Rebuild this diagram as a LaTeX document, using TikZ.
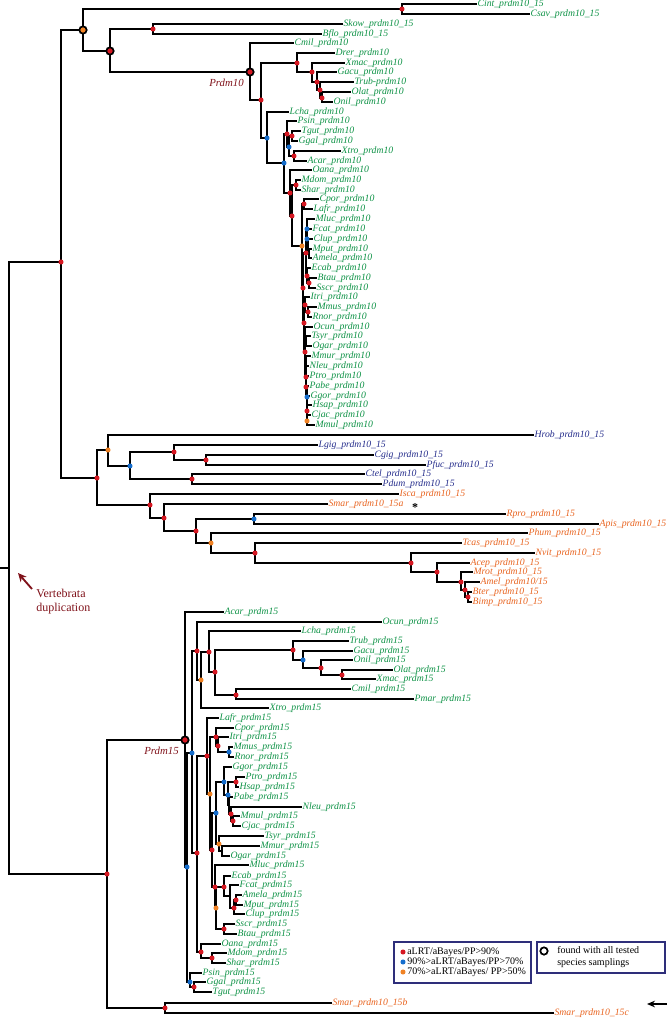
\documentclass[tikz,border=0pt]{standalone}
\usepackage{fontspec}
\setmainfont{Liberation Serif}
\usetikzlibrary{arrows.meta}
\definecolor{vgreen}{RGB}{14,146,70}
\definecolor{iblue}{RGB}{38,46,140}
\definecolor{aorange}{RGB}{232,100,32}
\definecolor{darkred}{RGB}{128,18,26}
\definecolor{dred}{RGB}{214,24,34}
\definecolor{dblue}{RGB}{22,110,205}
\definecolor{dorange}{RGB}{240,130,36}
\definecolor{legblue}{RGB}{46,46,122}
\tikzset{
  br/.style={line width=1.2pt, line cap=rect},
  lf/.style={anchor=west, inner xsep=1pt, inner ysep=0.5pt, font=\fontsize{7.3}{8}\selectfont\itshape},
  vg/.style={lf, text=vgreen},
  ib/.style={lf, text=iblue},
  ao/.style={lf, text=aorange},
  dotr/.style={circle, fill=dred, inner sep=0pt, minimum size=3.8pt},
  dotb/.style={dotr, fill=dblue},
  doto/.style={dotr, fill=dorange},
  ringr/.style={circle, draw=black, line width=1.3pt, fill=dred, inner sep=0pt, minimum size=5.5pt},
  ringo/.style={ringr, fill=dorange},
  ringw/.style={ringr, fill=white},
  clade/.style={text=darkred, inner sep=0pt, font=\fontsize{8.1}{9}\selectfont\itshape},
  legbox/.style={draw=legblue, line width=0.9pt},
  leg/.style={anchor=west, inner sep=0pt, font=\fontsize{7.5}{9}\selectfont}
}
\begin{document}
\begin{tikzpicture}[x=0.75pt, y=-0.75pt]
\useasboundingbox (0,0) rectangle (668,1018);

% inner nodes, upper part
\coordinate (Rs) at (0,568);
\coordinate (R0) at (9,568);
\coordinate (N61) at (61,262);
\coordinate (O1) at (83,30);
\coordinate (Ncc) at (402,9);
\coordinate (N2) at (110,51);
\coordinate (Nsb) at (153,29);
\coordinate (P10) at (250,72);
\coordinate (Na) at (261,100);
\coordinate (F1) at (297,63);
\coordinate (F2) at (312,72);
\coordinate (F3) at (317,82);
\coordinate (F4) at (320,90);
\coordinate (F5) at (322,98);
\coordinate (B1) at (267,138);
\coordinate (B2) at (284,163);
\coordinate (R1) at (287,134);
\coordinate (B3) at (289,147);
\coordinate (TG) at (292,136);
\coordinate (XA) at (294,156);
\coordinate (M0) at (290,193);
\coordinate (Mx) at (292,216);
\coordinate (Ms10) at (296,185);
\coordinate (P0) at (302,246);
\coordinate (CL) at (304,204);
\coordinate (Q) at (303,288);
\coordinate (Lr) at (306,253);
\coordinate (Lb1) at (307,229);
\coordinate (Carn) at (307,239);
\coordinate (Cma) at (308,246);
\coordinate (Ma) at (309,253);
\coordinate (Lu) at (307,276);
\coordinate (Bs10) at (309,283);
\coordinate (Er) at (304,323);
\coordinate (Gl) at (305,305);
\coordinate (Mr) at (308,312);
\coordinate (Ra) at (305,352);
\coordinate (Ua) at (305,337);
\coordinate (Ub) at (306,341);
\coordinate (Pr) at (306,377);
\coordinate (Pq) at (306,361);
\coordinate (Ps) at (306,387);
\coordinate (Pt) at (307,397);
\coordinate (Pu) at (307,411);
\coordinate (Pw) at (307,400);
\coordinate (Pv) at (307,421);

% inner nodes, prdm10_15
\coordinate (I0) at (97,478);
\coordinate (I1) at (108,450);
\coordinate (I2) at (130,466);
\coordinate (I3) at (174,452);
\coordinate (I4) at (206,460);
\coordinate (I5) at (192,479);
\coordinate (I6) at (150,505);
\coordinate (I7) at (164,518);
\coordinate (I8) at (196,531);
\coordinate (I9) at (254,519);
\coordinate (I10) at (211,543);
\coordinate (I11) at (255,553);
\coordinate (I12) at (411,563);
\coordinate (I13) at (437,572);
\coordinate (I14) at (461,582);
\coordinate (I15) at (465,590);
\coordinate (I16) at (468,597);

% inner nodes, prdm15
\coordinate (S0) at (107,874);
\coordinate (S1) at (165,1008);
\coordinate (P15) at (185,740);
\coordinate (Bq) at (187,867);
\coordinate (Bu) at (192,753);
\coordinate (Bp) at (190,982);
\coordinate (Rf) at (197,651);
\coordinate (Or) at (201,680);
\coordinate (Rg) at (209,652);
\coordinate (Rh) at (215,672);
\coordinate (Fi) at (293,650);
\coordinate (Fj) at (303,660);
\coordinate (Fk) at (321,668);
\coordinate (Fl) at (342,675);
\coordinate (Fm) at (236,695);
\coordinate (Rn) at (197,853);
\coordinate (Eu) at (207,756);
\coordinate (Ez) at (210,794);
\coordinate (Ea) at (216,737);
\coordinate (Eb) at (218,746);
\coordinate (Ec) at (229,752);
\coordinate (Ed) at (212,850);
\coordinate (Ee) at (216,813);
\coordinate (Ef) at (224,782);
\coordinate (Eg) at (228,795);
\coordinate (Hh) at (236,782);
\coordinate (Ez2) at (229,805);
\coordinate (Ei) at (231,814);
\coordinate (Mc) at (233,821);
\coordinate (Tg) at (219,844);
\coordinate (Mo2) at (222,851);
\coordinate (Lr2) at (215,887);
\coordinate (Lo) at (216,908);
\coordinate (Lc) at (224,887);
\coordinate (Cn) at (230,896);
\coordinate (Cm2) at (234,908);
\coordinate (Am2) at (236,900);
\coordinate (Bs) at (224,929);
\coordinate (Mo) at (201,952);
\coordinate (Ms2) at (212,958);
\coordinate (Gt2) at (194,987);

% leaves, upper part
\node[vg] (Cint) at (476,4) {Cint\_prdm10\_15};
\node[vg] (Csav) at (529,14) {Csav\_prdm10\_15};
\node[vg] (Skow) at (342,24) {Skow\_prdm10\_15};
\node[vg] (Bflo) at (321,34) {Bflo\_prdm10\_15};
\node[vg] (Cmil10) at (293,43) {Cmil\_prdm10};
\node[vg] (Drer) at (334,53) {Drer\_prdm10};
\node[vg] (Xmac10) at (344,63) {Xmac\_prdm10};
\node[vg] (Gacu10) at (336,72) {Gacu\_prdm10};
\node[vg] (Trub10) at (353,82) {Trub-prdm10};
\node[vg] (Olat10) at (350,92) {Olat\_prdm10};
\node[vg] (Onil10) at (332,102) {Onil\_prdm10};
\node[vg] (Lcha10) at (288,112) {Lcha\_prdm10};
\node[vg] (Psin10) at (296,121) {Psin\_prdm10};
\node[vg] (Tgut10) at (300,131) {Tgut\_prdm10};
\node[vg] (Ggal10) at (297,141) {Ggal\_prdm10};
\node[vg] (Xtro10) at (340,151) {Xtro\_prdm10};
\node[vg] (Acar10) at (306,161) {Acar\_prdm10};
\node[vg] (Oana10) at (311,170) {Oana\_prdm10};
\node[vg] (Mdom10) at (300,180) {Mdom\_prdm10};
\node[vg] (Shar10) at (300,190) {Shar\_prdm10};
\node[vg] (Cpor10) at (318,199) {Cpor\_prdm10};
\node[vg] (Lafr10) at (312,209) {Lafr\_prdm10};
\node[vg] (Mluc10) at (314,219) {Mluc\_prdm10};
\node[vg] (Fcat10) at (311,229) {Fcat\_prdm10};
\node[vg] (Clup10) at (312,239) {Clup\_prdm10};
\node[vg] (Mput10) at (311,249) {Mput\_prdm10};
\node[vg] (Amela10) at (311,258) {Amela\_prdm10};
\node[vg] (Ecab10) at (310,268) {Ecab\_prdm10};
\node[vg] (Btau10) at (316,278) {Btau\_prdm10};
\node[vg] (Sscr10) at (315,288) {Sscr\_prdm10};
\node[vg] (Itri10) at (309,297) {Itri\_prdm10};
\node[vg] (Mmus10) at (316,307) {Mmus\_prdm10};
\node[vg] (Rnor10) at (311,317) {Rnor\_prdm10};
\node[vg] (Ocun10) at (312,327) {Ocun\_prdm10};
\node[vg] (Tsyr10) at (310,336) {Tsyr\_prdm10};
\node[vg] (Ogar10) at (311,346) {Ogar\_prdm10};
\node[vg] (Mmur10) at (310,356) {Mmur\_prdm10};
\node[vg] (Nleu10) at (308,366) {Nleu\_prdm10};
\node[vg] (Ptro10) at (308,376) {Ptro\_prdm10};
\node[vg] (Pabe10) at (308,386) {Pabe\_prdm10};
\node[vg] (Ggor10) at (309,396) {Ggor\_prdm10};
\node[vg] (Hsap10) at (311,405) {Hsap\_prdm10};
\node[vg] (Cjac10) at (310,415) {Cjac\_prdm10};
\node[vg] (Mmul10) at (314,425) {Mmul\_prdm10};

% leaves, prdm10_15
\node[ib] (Hrob) at (533,435) {Hrob\_prdm10\_15};
\node[ib] (Lgig) at (317,445) {Lgig\_prdm10\_15};
\node[ib] (Cgig) at (373,455) {Cgig\_prdm10\_15};
\node[ib] (Pfuc) at (425,465) {Pfuc\_prdm10\_15};
\node[ib] (Ctel) at (364,474) {Ctel\_prdm10\_15};
\node[ib] (Pdum) at (381,484) {Pdum\_prdm10\_15};
\node[ao] (Isca) at (398,494) {Isca\_prdm10\_15};
\node[ao] (Smar15a) at (327,504) {Smar\_prdm10\_15a};
\node[ao] (Rpro) at (505,514) {Rpro\_prdm10\_15};
\node[ao] (Apis) at (598,524) {Apis\_prdm10\_15};
\node[ao] (Phum) at (527,533) {Phum\_prdm10\_15};
\node[ao] (Tcas) at (461,543) {Tcas\_prdm10\_15};
\node[ao] (Nvit) at (534,553) {Nvit\_prdm10\_15};
\node[ao] (Acep) at (469,563) {Acep\_prdm10\_15};
\node[ao] (Mrot) at (472,572) {Mrot\_prdm10\_15};
\node[ao] (Amel) at (479,582) {Amel\_prdm10/15};
\node[ao] (Bter) at (471,592) {Bter\_prdm10\_15};
\node[ao] (Bimp) at (471,602) {Bimp\_prdm10\_15};
\node[inner sep=0pt, font=\bfseries\fontsize{9}{9}\selectfont] (ast) at (415,508) {*};

% leaves, prdm15
\node[vg] (Acar15) at (223,612) {Acar\_prdm15};
\node[vg] (Ocun15) at (381,622) {Ocun\_prdm15};
\node[vg] (Lcha15) at (300,631) {Lcha\_prdm15};
\node[vg] (Trub15) at (348,641) {Trub\_prdm15};
\node[vg] (Gacu15) at (352,651) {Gacu\_prdm15};
\node[vg] (Onil15) at (352,660) {Onil\_prdm15};
\node[vg] (Olat15) at (392,670) {Olat\_prdm15};
\node[vg] (Xmac15) at (375,679) {Xmac\_prdm15};
\node[vg] (Cmil15) at (350,689) {Cmil\_prdm15};
\node[vg] (Pmar15) at (413,699) {Pmar\_prdm15};
\node[vg] (Xtro15) at (268,708) {Xtro\_prdm15};
\node[vg] (Lafr15) at (218,718) {Lafr\_prdm15};
\node[vg] (Cpor15) at (233,728) {Cpor\_prdm15};
\node[vg] (Itri15) at (228,737) {Itri\_prdm15};
\node[vg] (Mmus15) at (232,747) {Mmus\_prdm15};
\node[vg] (Rnor15) at (233,757) {Rnor\_prdm15};
\node[vg] (Ggor15) at (231,767) {Ggor\_prdm15};
\node[vg] (Ptro15) at (244,777) {Ptro\_prdm15};
\node[vg] (Hsap15) at (238,787) {Hsap\_prdm15};
\node[vg] (Pabe15) at (232,797) {Pabe\_prdm15};
\node[vg] (Nleu15) at (301,807) {Nleu\_prdm15};
\node[vg] (Mmul15) at (239,816) {Mmul\_prdm15};
\node[vg] (Cjac15) at (240,826) {Cjac\_prdm15};
\node[vg] (Tsyr15) at (263,836) {Tsyr\_prdm15};
\node[vg] (Mmur15) at (259,846) {Mmur\_prdm15};
\node[vg] (Ogar15) at (229,856) {Ogar\_prdm15};
\node[vg] (Mluc15) at (248,865) {Mluc\_prdm15};
\node[vg] (Ecab15) at (230,876) {Ecab\_prdm15};
\node[vg] (Fcat15) at (238,885) {Fcat\_prdm15};
\node[vg] (Amela15) at (241,895) {Amela\_prdm15};
\node[vg] (Mput15) at (242,905) {Mput\_prdm15};
\node[vg] (Clup15) at (244,914) {Clup\_prdm15};
\node[vg] (Sscr15) at (234,924) {Sscr\_prdm15};
\node[vg] (Btau15) at (236,934) {Btau\_prdm15};
\node[vg] (Oana15) at (220,944) {Oana\_prdm15};
\node[vg] (Mdom15) at (226,953) {Mdom\_prdm15};
\node[vg] (Shar15) at (225,963) {Shar\_prdm15};
\node[vg] (Psin15) at (201,973) {Psin\_prdm15};
\node[vg] (Ggal15) at (205,982) {Ggal\_prdm15};
\node[vg] (Tgut15) at (211,992) {Tgut\_prdm15};
\node[ao] (Smar15b) at (331,1003) {Smar\_prdm10\_15b};
\node[ao] (Smar15c) at (553,1013) {Smar\_prdm10\_15c};

% branches, upper part
\draw[br] (Rs) -- (R0) (R0) |- (N61) (R0) |- (S0);
\draw[br] (N61) |- (O1) (N61) |- (I0);
\draw[br] (O1) |- (Ncc) (O1) |- (N2);
\draw[br] (Ncc) |- (Cint) (Ncc) |- (Csav);
\draw[br] (N2) |- (Nsb) (N2) |- (P10);
\draw[br] (Nsb) |- (Skow) (Nsb) |- (Bflo);
\draw[br] (P10) |- (Cmil10) (P10) |- (Na);
\draw[br] (Na) |- (F1) (Na) |- (B1);
\draw[br] (F1) |- (Drer) (F1) |- (F2);
\draw[br] (F2) |- (Xmac10) (F2) |- (F3);
\draw[br] (F3) |- (Gacu10) (F3) |- (F4);
\draw[br] (F4) |- (Trub10) (F4) |- (F5);
\draw[br] (F5) |- (Olat10) (F5) |- (Onil10);
\draw[br] (B1) |- (Lcha10) (B1) |- (B2);
\draw[br] (B2) |- (R1) (B2) |- (M0);
\draw[br] (R1) |- (Psin10) (R1) |- (B3);
\draw[br] (B3) |- (TG) (B3) |- (XA);
\draw[br] (TG) |- (Tgut10) (TG) |- (Ggal10);
\draw[br] (XA) |- (Xtro10) (XA) |- (Acar10);
\draw[br] (M0) |- (Oana10) (M0) |- (Mx);
\draw[br] (Mx) |- (Ms10) (Mx) |- (P0);
\draw[br] (Ms10) |- (Mdom10) (Ms10) |- (Shar10);
\draw[br] (P0) |- (CL) (P0) |- (Q);
\draw[br] (CL) |- (Cpor10) (CL) |- (Lafr10);
\draw[br] (Q) |- (Lr) (Q) |- (Er);
\draw[br] (Lr) |- (Lb1) (Lr) |- (Lu);
\draw[br] (Lb1) |- (Mluc10) (Lb1) |- (Carn);
\draw[br] (Carn) |- (Fcat10) (Carn) |- (Cma);
\draw[br] (Cma) |- (Clup10) (Cma) |- (Ma);
\draw[br] (Ma) |- (Mput10) (Ma) |- (Amela10);
\draw[br] (Lu) |- (Ecab10) (Lu) |- (Bs10);
\draw[br] (Bs10) |- (Btau10) (Bs10) |- (Sscr10);
\draw[br] (Er) |- (Gl) (Er) |- (Ra);
\draw[br] (Gl) |- (Itri10) (Gl) |- (Mr);
\draw[br] (Mr) |- (Mmus10) (Mr) |- (Rnor10);
\draw[br] (Ra) |- (Ua) (Ra) |- (Pr);
\draw[br] (Ua) |- (Ocun10) (Ua) |- (Ub);
\draw[br] (Ub) |- (Tsyr10) (Ub) |- (Ogar10);
\draw[br] (Pr) |- (Pq) (Pr) |- (Ps);
\draw[br] (Pq) |- (Mmur10) (Pq) |- (Nleu10);
\draw[br] (Ps) |- (Ptro10) (Ps) |- (Pt);
\draw[br] (Pt) |- (Pabe10) (Pt) |- (Pu);
\draw[br] (Pu) |- (Pw) (Pu) |- (Pv);
\draw[br] (Pw) |- (Ggor10) (Pw) |- (Hsap10);
\draw[br] (Pv) |- (Cjac10) (Pv) |- (Mmul10);

% branches, prdm10_15
\draw[br] (I0) |- (I1) (I0) |- (I6);
\draw[br] (I1) |- (Hrob) (I1) |- (I2);
\draw[br] (I2) |- (I3) (I2) |- (I5);
\draw[br] (I3) |- (Lgig) (I3) |- (I4);
\draw[br] (I4) |- (Cgig) (I4) |- (Pfuc);
\draw[br] (I5) |- (Ctel) (I5) |- (Pdum);
\draw[br] (I6) |- (Isca) (I6) |- (I7);
\draw[br] (I7) |- (Smar15a) (I7) |- (I8);
\draw[br] (I8) |- (I9) (I8) |- (I10);
\draw[br] (I9) |- (Rpro) (I9) |- (Apis);
\draw[br] (I10) |- (Phum) (I10) |- (I11);
\draw[br] (I11) |- (Tcas) (I11) |- (I12);
\draw[br] (I12) |- (Nvit) (I12) |- (I13);
\draw[br] (I13) |- (Acep) (I13) |- (I14);
\draw[br] (I14) |- (Mrot) (I14) |- (I15);
\draw[br] (I15) |- (Amel) (I15) |- (I16);
\draw[br] (I16) |- (Bter) (I16) |- (Bimp);

% branches, prdm15
\draw[br] (S0) |- (P15) (S0) |- (S1);
\draw[br] (S1) |- (Smar15b) (S1) |- (Smar15c);
\draw[br] (P15) |- (Acar15) (P15) |- (Bq);
\draw[br] (Bq) |- (Bu) (Bq) |- (Bp);
\draw[br] (Bu) |- (Rf) (Bu) |- (Rn);
\draw[br] (Rf) |- (Ocun15) (Rf) |- (Or);
\draw[br] (Or) |- (Rg) (Or) |- (Xtro15);
\draw[br] (Rg) |- (Lcha15) (Rg) |- (Rh);
\draw[br] (Rh) |- (Fi) (Rh) |- (Fm);
\draw[br] (Fi) |- (Trub15) (Fi) |- (Fj);
\draw[br] (Fj) |- (Gacu15) (Fj) |- (Fk);
\draw[br] (Fk) |- (Onil15) (Fk) |- (Fl);
\draw[br] (Fl) |- (Olat15) (Fl) |- (Xmac15);
\draw[br] (Fm) |- (Cmil15) (Fm) |- (Pmar15);
\draw[br] (Rn) |- (Eu) (Rn) |- (Mo);
\draw[br] (Eu) |- (Lafr15) (Eu) |- (Ez);
\draw[br] (Ez) |- (Ea) (Ez) |- (Ed);
\draw[br] (Ea) |- (Cpor15) (Ea) |- (Eb);
\draw[br] (Eb) |- (Itri15) (Eb) |- (Ec);
\draw[br] (Ec) |- (Mmus15) (Ec) |- (Rnor15);
\draw[br] (Ed) |- (Ee) (Ed) |- (Lr2);
\draw[br] (Ee) |- (Ef) (Ee) |- (Tg);
\draw[br] (Ef) |- (Ggor15) (Ef) |- (Eg);
\draw[br] (Eg) |- (Hh) (Eg) |- (Ez2);
\draw[br] (Hh) |- (Ptro15) (Hh) |- (Hsap15);
\draw[br] (Ez2) |- (Pabe15) (Ez2) |- (Ei);
\draw[br] (Ei) |- (Nleu15) (Ei) |- (Mc);
\draw[br] (Mc) |- (Mmul15) (Mc) |- (Cjac15);
\draw[br] (Tg) |- (Tsyr15) (Tg) |- (Mo2);
\draw[br] (Mo2) |- (Mmur15) (Mo2) |- (Ogar15);
\draw[br] (Lr2) |- (Mluc15) (Lr2) |- (Lo);
\draw[br] (Lo) |- (Lc) (Lo) |- (Bs);
\draw[br] (Lc) |- (Ecab15) (Lc) |- (Cn);
\draw[br] (Cn) |- (Fcat15) (Cn) |- (Cm2);
\draw[br] (Cm2) |- (Am2) (Cm2) |- (Clup15);
\draw[br] (Am2) |- (Amela15) (Am2) |- (Mput15);
\draw[br] (Bs) |- (Sscr15) (Bs) |- (Btau15);
\draw[br] (Mo) |- (Oana15) (Mo) |- (Ms2);
\draw[br] (Ms2) |- (Mdom15) (Ms2) |- (Shar15);
\draw[br] (Bp) |- (Psin15) (Bp) |- (Gt2);
\draw[br] (Gt2) |- (Ggal15) (Gt2) |- (Tgut15);

% support values
\node[dotr] at (Ncc) {}; \node[dotr] at (N61) {}; \node[dotr] at (Nsb) {}; \node[dotr] at (Na) {};
\node[dotr] at (F1) {}; \node[dotr] at (F2) {}; \node[dotr] at (F3) {}; \node[dotr] at (F4) {}; \node[dotr] at (F5) {};
\node[dotr] at (R1) {}; \node[dotr] at (TG) {}; \node[dotr] at (XA) {}; \node[dotr] at (M0) {}; \node[dotr] at (Mx) {};
\node[dotr] at (Ms10) {}; \node[dotr] at (CL) {}; \node[dotr] at (Q) {}; \node[dotr] at (Lr) {}; \node[dotr] at (Lu) {};
\node[dotr] at (Bs10) {}; \node[dotr] at (Er) {}; \node[dotr] at (Gl) {}; \node[dotr] at (Mr) {}; \node[dotr] at (Ra) {};
\node[dotr] at (Pr) {}; \node[dotr] at (Ps) {}; \node[dotr] at (Pu) {};
\node[dotb] at (B1) {}; \node[dotb] at (B2) {}; \node[dotb] at (B3) {}; \node[dotb] at (Lb1) {}; \node[dotb] at (Carn) {};
\node[dotb] at (Pt) {}; \node[doto] at (P0) {}; \node[doto] at (Pv) {};
\node[dotr] at (I0) {}; \node[dotr] at (I3) {}; \node[dotr] at (I4) {}; \node[dotr] at (I5) {}; \node[dotr] at (I6) {};
\node[dotr] at (I7) {}; \node[dotr] at (I8) {}; \node[dotr] at (I11) {}; \node[dotr] at (I12) {}; \node[dotr] at (I13) {};
\node[dotr] at (I14) {}; \node[dotr] at (I15) {}; \node[dotr] at (I16) {};
\node[dotb] at (I2) {}; \node[dotb] at (I9) {}; \node[doto] at (I1) {}; \node[doto] at (I10) {};
\node[dotr] at (S0) {}; \node[dotr] at (S1) {}; \node[dotr] at (Rf) {}; \node[dotr] at (Rg) {}; \node[dotr] at (Rh) {};
\node[dotr] at (Fi) {}; \node[dotr] at (Fk) {}; \node[dotr] at (Fl) {}; \node[dotr] at (Fm) {}; \node[dotr] at (Rn) {};
\node[dotr] at (Eu) {}; \node[dotr] at (Ea) {}; \node[dotr] at (Eb) {}; \node[dotr] at (Ed) {}; \node[dotr] at (Hh) {};
\node[dotr] at (Ei) {}; \node[dotr] at (Mc) {}; \node[dotr] at (Lr2) {}; \node[dotr] at (Lc) {}; \node[dotr] at (Cm2) {};
\node[dotr] at (Am2) {}; \node[dotr] at (Bs) {}; \node[dotr] at (Mo) {}; \node[dotr] at (Ms2) {}; \node[dotr] at (Gt2) {};
\node[dotb] at (Bq) {}; \node[dotb] at (Bu) {}; \node[dotb] at (Fj) {}; \node[dotb] at (Ec) {}; \node[dotb] at (Ee) {};
\node[dotb] at (Ef) {}; \node[dotb] at (Eg) {}; \node[dotb] at (Bp) {};
\node[doto] at (Or) {}; \node[doto] at (Ez) {}; \node[doto] at (Tg) {}; \node[doto] at (Lo) {};
\node[ringo] at (O1) {}; \node[ringr] at (N2) {}; \node[ringr] at (P10) {}; \node[ringr] at (P15) {};

% clade labels
\node[clade, anchor=east] (lP10) at (244,83) {Prdm10};
\node[clade, anchor=east] (lP15) at (179,751) {Prdm15};
\node[text=darkred, inner sep=0pt, align=left, anchor=north west, font=\fontsize{9}{10.5}\selectfont] (vtxt) at (36,589) {Vertebrata\\duplication};
\coordinate (vtail) at (32,589);
\coordinate (vtip) at (18,573);
\draw[darkred, line width=1.4pt, -{Stealth[length=6.5pt, width=6pt]}] (vtail) -- (vtip);
\coordinate (atail) at (667,1004);
\coordinate (atip) at (647,1004);
\draw[line width=1.1pt, -{Stealth[length=6pt, width=5pt]}] (atail) -- (atip);

% legend
\draw[legbox] (394,942) rectangle (531,983);
\draw[legbox] (537,942) rectangle (665,973);
\node[dotr] (k1) at (403,952) {};
\node[dotb] (k2) at (403,962) {};
\node[doto] (k3) at (403,972) {};
\node[leg] (t1) at (407,952) {aLRT/aBayes/PP>90\%};
\node[leg] (t2) at (407,962) {90\%>aLRT/aBayes/PP>70\%};
\node[leg] (t3) at (407,972) {70\%>aLRT/aBayes/ PP>50\%};
\node[ringw] (k4) at (544,951) {};
\node[leg, align=left, anchor=north west] (t4) at (557,946) {found with all tested\\species samplings};
\end{tikzpicture}
\end{document}
